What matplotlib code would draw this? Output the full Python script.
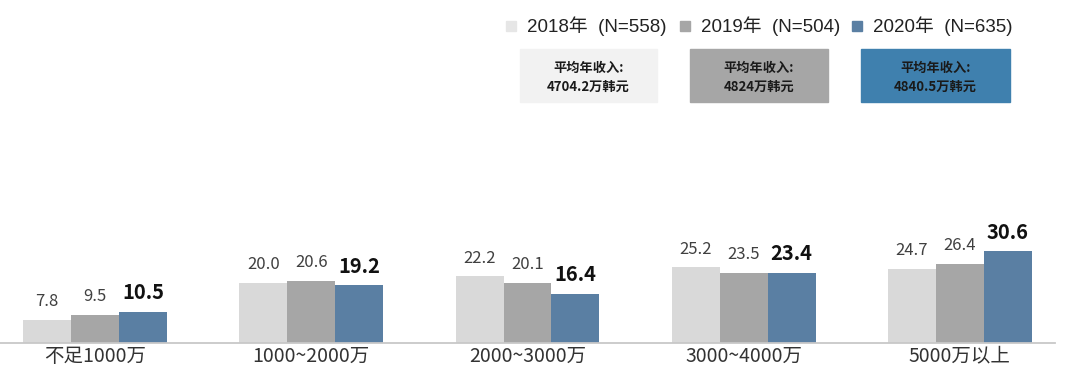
import numpy as np
import matplotlib
matplotlib.use('Agg')
from matplotlib import pyplot as plt
from matplotlib.patches import Rectangle

plt.rcParams['font.family'] = ['Noto Sans CJK SC', 'DejaVu Sans']

# data
categories = ['不足1000万', '1000~2000万', '2000~3000万', '3000~4000万', '5000万以上']
y2018 = [7.8, 20.0, 22.2, 25.2, 24.7]
y2019 = [9.5, 20.6, 20.1, 23.5, 26.4]
y2020 = [10.5, 19.2, 16.4, 23.4, 30.6]
series = [y2018, y2019, y2020]
legend_labels = ['2018年  (N=558)', '2019年  (N=504)', '2020年  (N=635)']
incomes = ['4704.2万韩元', '4824万韩元', '4840.5万韩元']

colors = ['#d9d9d9', '#a6a6a6', '#5a7fa3']
box_colors = ['#f2f2f2', '#a6a6a6', '#3f80ae']

fig = plt.figure(figsize=(10.8, 3.85), dpi=100)
ax = fig.add_axes([0, 42 / 385, 1055 / 1080, 105 / 385])   # baseline sits at y=343px

x = np.arange(len(categories))
w = 0.222
for i in range(3):
    xs = x + (i - 1) * w
    ax.bar(xs, series[i], width=w, color=colors[i], linewidth=0)
    for xx, v in zip(xs, series[i]):
        if i == 2:   # 2020 labels are bold and bigger
            ax.annotate('{:.1f}'.format(v), (xx, v), xytext=(0, 6), textcoords='offset points',
                        ha='center', va='bottom', fontsize=14.5, fontweight='bold', color='#111111')
        else:
            ax.annotate('{:.1f}'.format(v), (xx, v), xytext=(0, 7), textcoords='offset points',
                        ha='center', va='bottom', fontsize=12, color='#404040')

ax.set_xlim(-0.44, 4.44)
ax.set_ylim(0, 35)
ax.set_xticks(x)
ax.set_xticklabels(categories, fontsize=14, color='#333333')
ax.tick_params(axis='x', length=0, pad=2)
ax.set_yticks([])
for s in ['top', 'right', 'left']:
    ax.spines[s].set_visible(False)
ax.spines['bottom'].set_color('#c8c8c8')
ax.spines['bottom'].set_linewidth(1.3)

# legend at top (squares + text)
leg_sq = [506, 680, 852]
leg_colors = ['#e6e6e6', colors[1], colors[2]]
for i in range(3):
    fig.patches.append(Rectangle((leg_sq[i] / 1080, 1 - 31 / 385), 10 / 1080, 10 / 385,
                                 transform=fig.transFigure, color=leg_colors[i]))
    fig.text((leg_sq[i] + 21) / 1080, 1 - 26 / 385, legend_labels[i], fontsize=13.5,
             family=['Liberation Sans', 'Noto Sans CJK SC'], color='#222222', va='center')

# average income boxes
box_x = [520, 690, 861]
box_w = [137, 138, 149]
for i in range(3):
    fig.patches.append(Rectangle((box_x[i] / 1080, 1 - 102 / 385), box_w[i] / 1080, 53 / 385,
                                 transform=fig.transFigure, color=box_colors[i]))
    cx = (box_x[i] + box_w[i] / 2) / 1080
    fig.text(cx, 1 - 68 / 385, '平均年收入:', ha='center', va='center', fontsize=9.5,
             fontweight='bold', color='#1a1a1a')
    fig.text(cx, 1 - 87 / 385, incomes[i], ha='center', va='center', fontsize=9.5,
             fontweight='bold', color='#1a1a1a')

plt.savefig('out.png', dpi=100)
